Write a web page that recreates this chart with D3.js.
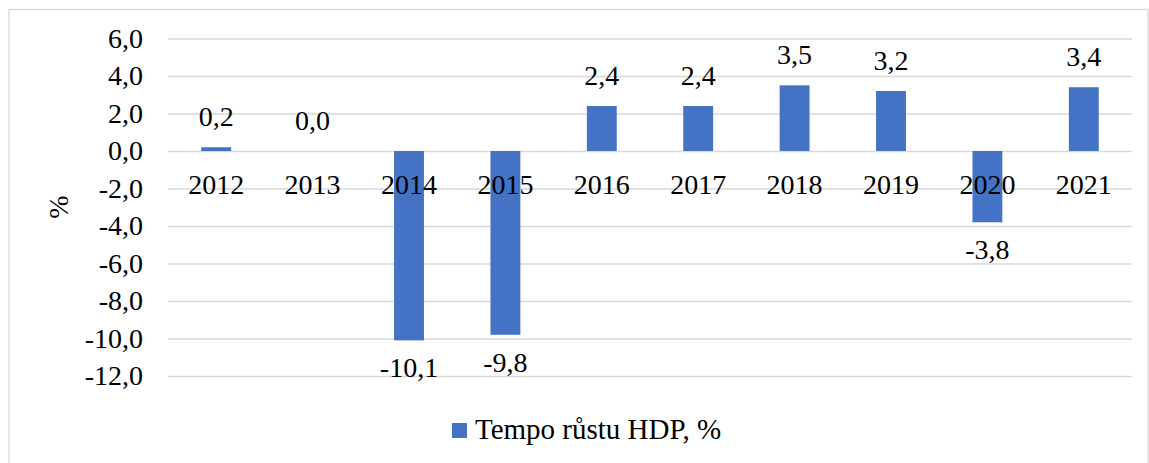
<!DOCTYPE html>
<html>
<head>
<meta charset="utf-8">
<script src="https://cdn.jsdelivr.net/npm/d3@7"></script>
<style>
  body { margin: 0; background: #fff; }
  svg text { font-family: "Liberation Serif", "Times New Roman", serif; fill: #000; }
</style>
</head>
<body>
<div id="chart"></div>
<script>
var years = ["2012", "2013", "2014", "2015", "2016", "2017", "2018", "2019", "2020", "2021"];
var growth = [0.2, 0.0, -10.1, -9.8, 2.4, 2.4, 3.5, 3.2, -3.8, 3.4];
var yTicks = [-12, -10, -8, -6, -4, -2, 0, 2, 4, 6];
var seriesName = "Tempo růstu HDP, %";
var yTitle = "%";

var w = 1149, h = 463;
var margin = {top: 38.5, left: 168, right: 17, bottom: 87};
var barColor = "#4472c4";
var gridColor = "#d9d9d9";
var fontSize = 28;

var locale = d3.formatLocale({decimal: ",", thousands: " ", grouping: [3], currency: ["", ""], minus: "-"});
var fmt = locale.format(".1f");

var data = years.map(function(y, i) { return {year: y, value: growth[i]}; });

var svg = d3.select("#chart").append("svg")
  .attr("width", w)
  .attr("height", h);

// outer chart border
svg.append("rect")
  .attr("x", 9).attr("y", 9.5)
  .attr("width", w - 10).attr("height", h)
  .attr("fill", "none")
  .attr("stroke", gridColor)
  .attr("stroke-width", 1.3);

var x = d3.scaleBand()
  .domain(years)
  .range([margin.left, w - margin.right])
  .paddingInner(0.69)
  .paddingOuter(0.345);

var y = d3.scaleLinear()
  .domain([-12, 6])
  .range([h - margin.bottom, margin.top]);

// y axis with gridlines
var yAxis = svg.append("g")
  .attr("transform", "translate(" + margin.left + ",0)")
  .call(d3.axisLeft(y)
    .tickValues(yTicks)
    .tickFormat(fmt)
    .tickSize(-(w - margin.left - margin.right))
    .tickPadding(25));
yAxis.attr("font-family", null).attr("font-size", fontSize);
yAxis.select(".domain").remove();
yAxis.selectAll("line").attr("stroke", gridColor).attr("stroke-width", 1.3);
yAxis.selectAll("text").attr("fill", "#000");

// axis title
svg.append("text")
  .attr("transform", "translate(58,207) rotate(-90)")
  .attr("text-anchor", "middle")
  .attr("dy", "0.35em")
  .attr("font-size", fontSize)
  .text(yTitle);

// bars
svg.selectAll(".bar")
  .data(data)
  .enter().append("rect")
  .attr("class", "bar")
  .attr("x", function(d) { return x(d.year); })
  .attr("width", x.bandwidth())
  .attr("y", function(d) { return y(Math.max(0, d.value)); })
  .attr("height", function(d) { return Math.abs(y(d.value) - y(0)); })
  .attr("fill", barColor);

// category labels along the zero line
var xAxis = svg.append("g")
  .attr("transform", "translate(0," + y(0) + ")")
  .call(d3.axisBottom(x).tickSize(0).tickPadding(23));
xAxis.attr("font-family", null).attr("font-size", fontSize);
xAxis.select(".domain").remove();
xAxis.selectAll("text").attr("fill", "#000");

// data labels
svg.selectAll(".label")
  .data(data)
  .enter().append("text")
  .attr("class", "label")
  .attr("x", function(d) { return x(d.year) + x.bandwidth() / 2; })
  .attr("y", function(d) { return d.value >= 0 ? y(d.value) - 21 : y(d.value) + 37; })
  .attr("text-anchor", "middle")
  .attr("font-size", fontSize)
  .text(function(d) { return fmt(d.value); });

// legend
var legend = svg.append("g").attr("transform", "translate(452,423)");
legend.append("rect")
  .attr("width", 15).attr("height", 15)
  .attr("fill", barColor);
legend.append("text")
  .attr("x", 23).attr("y", 16)
  .attr("font-size", 29)
  .text(seriesName);
</script>
</body>
</html>
